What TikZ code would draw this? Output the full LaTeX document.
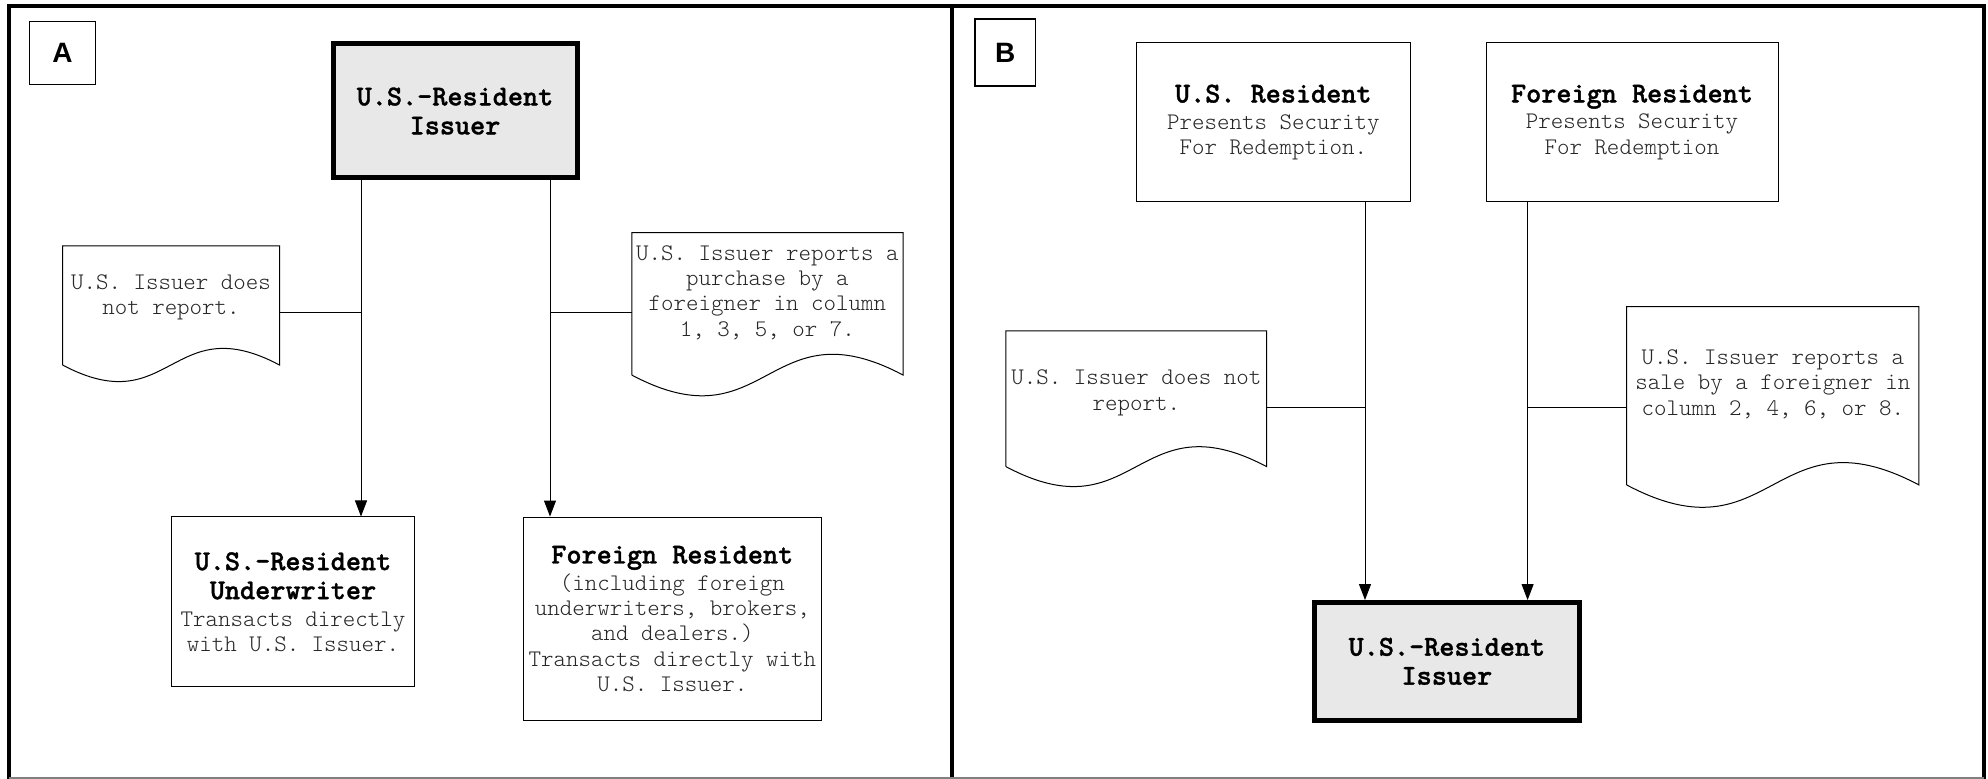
\documentclass[tikz,border=0pt]{standalone}
\usepackage{fontspec}
\newfontfamily\courf{lmmonolt10-regular.otf}
\newfontfamily\courb{lmmonolt10-bold.otf}[FakeBold=1.2]
\newfontfamily\labfont{Liberation Sans}
\usetikzlibrary{arrows.meta,calc}
\newcommand{\tb}[1]{{\color{black}\courb\fontsize{14.4}{12.7}\selectfont #1}}
\newcommand{\docwave}[1]{%
  \draw[conn] let \p1=(#1.south west), \p2=(#1.south east) in
    (#1.south west) -- (#1.north west) -- (#1.north east) -- (#1.south east)
    .. controls ({0.5*\x1+0.5*\x2},{\y2+0.265*(\x2-\x1)}) and ({0.5*\x1+0.5*\x2},{\y1-0.265*(\x2-\x1)}) .. (#1.south west);
}
\begin{document}
\begin{tikzpicture}[x=0.5pt,y=-0.5pt,
  txt/.style={font=\courf\fontsize{11.9}{12.7}\selectfont, text=black!85, align=center, inner sep=1pt},
  box/.style={draw, line width=0.5pt, txt},
  issuer/.style={draw, line width=2.5pt, fill=gray!18, txt},
  docshape/.style={draw=none, inner sep=0pt, outer sep=0pt},
  conn/.style={line width=0.5pt},
  arr/.style={conn, -{Triangle[length=8pt,width=6pt]}},
  frame/.style={line width=2pt},
  lab/.style={draw, line width=0.6pt, font=\labfont\bfseries\fontsize{14}{15}\selectfont}
]
\useasboundingbox (0,0) rectangle (1988,779);

% frames
\draw[frame] (9,779) -- (9,6) -- (1984,6) -- (1984,779);
\draw[frame] (952,6) -- (952,779);
\draw[line width=0.6pt, gray] (9,778) -- (1984,778);

% labels
\node[lab, minimum width=33pt, minimum height=31.15pt] (labA) at (62.5,53) {A};
\node[lab, minimum width=30.3pt, minimum height=33.5pt] (labB) at (1005.3,52.5) {B};

% ---------- Panel A ----------
\node[issuer, minimum width=122pt, minimum height=67pt] (issA) at (455,111)
  {\tb{U.S.-Resident}\\[1.8pt]\tb{Issuer}};
\node[box, minimum width=121.5pt, minimum height=85pt] (uwA) at (293,602)
  {\tb{U.S.-Resident}\\[1.8pt]\tb{Underwriter}\\[0.8pt]Transacts directly\\with U.S. Issuer.};
\node[box, minimum width=148.7pt, minimum height=101.85pt] (frA) at (672.3,618.9)
  {\tb{Foreign Resident}\\[0.6pt](including foreign\\underwriters, brokers,\\and dealers.)\\Transacts directly with\\U.S. Issuer.};

\node[docshape, minimum width=108.5pt, minimum height=59.5pt] (dA1) at (171,305.5) {};
\node[txt] (dA1t) at (171,297.5) {U.S. Issuer does\\not report.};
\node[docshape, minimum width=135.65pt, minimum height=71.15pt] (dA2) at (767.4,303.9) {};
\node[txt] (dA2t) at (767.4,292.5) {U.S. Issuer reports a\\purchase by a\\foreigner in column\\1, 3, 5, or 7.};
\docwave{dA1}
\docwave{dA2}

\coordinate (jA1) at (361,313);
\coordinate (jA2) at (550,313);
\draw[arr] (issA.south -| jA1) -- (uwA.north -| jA1);
\draw[arr] (issA.south -| jA2) -- (frA.north -| jA2);
\draw[conn] (dA1.east |- jA1) -- (jA1);
\draw[conn] (jA2) -- (dA2.west |- jA2);

% ---------- Panel B ----------
\node[box, minimum width=137.3pt, minimum height=79.65pt] (usB) at (1273.3,122.3)
  {\tb{U.S. Resident}\\[0.6pt]Presents Security\\For Redemption.};
\node[box, minimum width=146pt, minimum height=79.65pt] (frB) at (1632,122.3)
  {\tb{Foreign Resident}\\[0.6pt]Presents Security\\For Redemption};
\node[issuer, minimum width=132.3pt, minimum height=58.75pt] (issB) at (1446.9,661.3)
  {\tb{U.S.-Resident}\\[1.8pt]\tb{Issuer}};

\node[docshape, minimum width=130.35pt, minimum height=67.85pt] (dB1) at (1136.3,398.8) {};
\node[txt] (dB1t) at (1136.3,393) {U.S. Issuer does not\\report.};
\node[docshape, minimum width=146.15pt, minimum height=89.15pt] (dB2) at (1772.8,395.8) {};
\node[txt] (dB2t) at (1772.8,384) {U.S. Issuer reports a\\sale by a foreigner in\\column 2, 4, 6, or 8.};
\docwave{dB1}
\docwave{dB2}

\coordinate (jB1) at (1365,408);
\coordinate (jB2) at (1527.6,408);
\draw[arr] (usB.south -| jB1) -- (issB.north -| jB1);
\draw[arr] (frB.south -| jB2) -- (issB.north -| jB2);
\draw[conn] (dB1.east |- jB1) -- (jB1);
\draw[conn] (jB2) -- (dB2.west |- jB2);
\end{tikzpicture}
\end{document}
